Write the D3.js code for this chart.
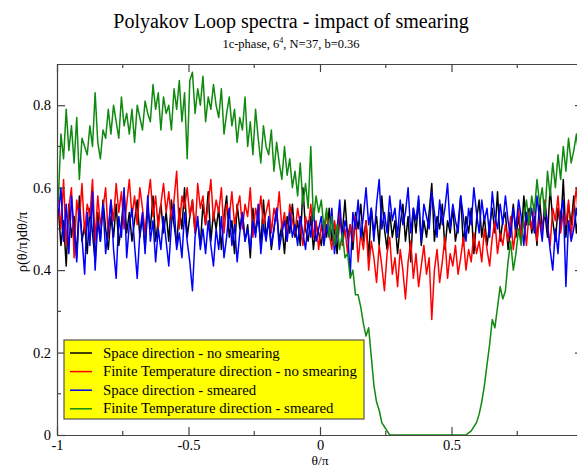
<!DOCTYPE html>
<html><head><meta charset="utf-8">
<script src="https://cdn.jsdelivr.net/npm/d3@7"></script>
<style>body{margin:0;background:#fff}svg{display:block}svg text{font-family:"Liberation Serif","Times New Roman","DejaVu Serif",serif !important}</style>
</head><body><svg id="c" width="577" height="467"></svg>
<script>
const seriesNames = ["Space direction - no smearing","Finite Temperature direction - no smearing","Space direction - smeared","Finite Temperature direction - smeared"];
const seriesColors = ["#000000","#ff0000","#0000ff","#0f8a0f"];
const xTicks = [-1,-0.5,0,0.5];
const yTicks = [0,0.2,0.4,0.6,0.8];
const xTickLabels = ["-1","-0.5","0","0.5"];
const yTickLabels = ["0","0.2","0.4","0.6","0.8"];
// bin centres: theta/pi from -0.995 to 0.995, step 0.01
const binCentres = d3.range(200).map(i => -0.995 + i*0.01);

const spaceNoSmear = [
0.55,0.46,0.52,0.41,0.56,0.48,0.53,0.43,0.58,0.47,
0.51,0.44,0.55,0.49,0.42,0.54,0.47,0.57,0.50,0.45,
0.53,0.48,0.56,0.46,0.51,0.59,0.49,0.54,0.47,0.52,
0.57,0.48,0.53,0.45,0.55,0.50,0.58,0.47,0.52,0.56,
0.49,0.54,0.47,0.57,0.51,0.46,0.55,0.50,0.60,0.48,
0.53,0.57,0.49,0.52,0.46,0.56,0.51,0.59,0.47,0.54,
0.50,0.55,0.45,0.53,0.58,0.48,0.52,0.44,0.56,0.50,
0.54,0.47,0.51,0.43,0.55,0.49,0.53,0.46,0.57,0.48,
0.52,0.45,0.50,0.55,0.47,0.51,0.44,0.53,0.49,0.56,
0.48,0.52,0.46,0.60,0.50,0.47,0.53,0.45,0.51,0.49,
0.46,0.52,0.48,0.55,0.47,0.50,0.44,0.53,0.49,0.57,
0.48,0.51,0.45,0.54,0.50,0.56,0.47,0.52,0.43,0.55,
0.49,0.53,0.46,0.58,0.50,0.45,0.54,0.48,0.52,0.44,
0.51,0.56,0.47,0.53,0.42,0.55,0.49,0.57,0.46,0.52,
0.48,0.54,0.61,0.47,0.53,0.50,0.56,0.45,0.52,0.49,
0.55,0.47,0.51,0.58,0.46,0.53,0.49,0.55,0.44,0.52,
0.57,0.48,0.53,0.46,0.51,0.55,0.49,0.59,0.47,0.52,
0.54,0.45,0.50,0.56,0.48,0.53,0.47,0.58,0.51,0.55,
0.49,0.53,0.46,0.57,0.50,0.54,0.48,0.60,0.52,0.47,
0.55,0.50,0.62,0.48,0.56,0.51,0.58,0.49,0.54,0.52];

const tempNoSmear = [
0.58,0.50,0.62,0.46,0.55,0.60,0.43,0.57,0.52,0.61,
0.49,0.56,0.53,0.62,0.47,0.58,0.51,0.55,0.60,0.48,
0.57,0.52,0.61,0.54,0.59,0.50,0.56,0.62,0.53,0.58,
0.51,0.60,0.55,0.49,0.57,0.62,0.53,0.58,0.50,0.56,
0.61,0.54,0.59,0.52,0.57,0.64,0.50,0.58,0.55,0.60,
0.53,0.57,0.49,0.61,0.55,0.58,0.51,0.56,0.62,0.52,
0.57,0.54,0.60,0.49,0.56,0.53,0.59,0.51,0.55,0.58,
0.50,0.56,0.53,0.60,0.48,0.55,0.52,0.58,0.51,0.54,
0.57,0.49,0.55,0.52,0.59,0.50,0.54,0.47,0.56,0.52,
0.49,0.55,0.51,0.46,0.53,0.50,0.56,0.48,0.52,0.45,
0.51,0.47,0.54,0.49,0.45,0.52,0.48,0.55,0.46,0.50,
0.44,0.51,0.47,0.53,0.42,0.49,0.45,0.52,0.40,0.47,
0.43,0.37,0.46,0.41,0.35,0.44,0.48,0.39,0.43,0.36,
0.45,0.40,0.33,0.42,0.47,0.38,0.44,0.36,0.41,0.46,
0.39,0.43,0.28,0.40,0.45,0.37,0.42,0.48,0.38,0.44,
0.41,0.46,0.39,0.43,0.48,0.40,0.45,0.42,0.49,0.44,
0.47,0.42,0.50,0.45,0.41,0.48,0.52,0.44,0.49,0.46,
0.51,0.47,0.53,0.45,0.50,0.55,0.48,0.52,0.46,0.54,
0.50,0.56,0.47,0.53,0.49,0.57,0.51,0.46,0.55,0.52,
0.58,0.49,0.54,0.51,0.57,0.48,0.55,0.60,0.50,0.53];

const spaceSmeared = [
0.53,0.60,0.47,0.56,0.44,0.58,0.50,0.42,0.55,0.48,
0.39,0.54,0.46,0.59,0.40,0.52,0.47,0.56,0.44,0.50,
0.57,0.45,0.38,0.53,0.48,0.60,0.43,0.51,0.55,0.46,
0.38,0.49,0.54,0.44,0.58,0.47,0.52,0.42,0.50,0.45,
0.53,0.47,0.41,0.51,0.56,0.45,0.49,0.43,0.54,0.47,
0.42,0.35,0.48,0.53,0.45,0.50,0.44,0.52,0.46,0.41,
0.50,0.45,0.53,0.43,0.48,0.55,0.46,0.51,0.42,0.49,
0.54,0.47,0.50,0.45,0.52,0.48,0.56,0.44,0.51,0.47,
0.53,0.46,0.50,0.55,0.45,0.49,0.52,0.47,0.54,0.48,
0.51,0.46,0.53,0.49,0.45,0.52,0.48,0.55,0.47,0.50,
0.53,0.46,0.51,0.48,0.55,0.44,0.50,0.57,0.47,0.52,
0.49,0.39,0.54,0.50,0.57,0.48,0.53,0.60,0.51,0.55,
0.47,0.56,0.62,0.50,0.54,0.49,0.58,0.52,0.55,0.48,
0.57,0.51,0.54,0.60,0.49,0.55,0.52,0.58,0.47,0.56,
0.53,0.50,0.59,0.54,0.48,0.57,0.51,0.55,0.61,0.50,
0.56,0.52,0.49,0.58,0.53,0.47,0.55,0.51,0.60,0.54,
0.49,0.57,0.52,0.55,0.48,0.59,0.53,0.50,0.56,0.51,
0.58,0.52,0.48,0.55,0.50,0.57,0.53,0.46,0.54,0.51,
0.55,0.49,0.58,0.52,0.47,0.56,0.51,0.45,0.40,0.50,
0.44,0.54,0.57,0.36,0.52,0.47,0.50,0.55,0.50,0.53];

const tempSmeared = [
0.57,0.73,0.67,0.79,0.69,0.75,0.66,0.77,0.62,0.72,
0.70,0.68,0.75,0.70,0.83,0.71,0.67,0.74,0.72,0.79,
0.73,0.80,0.76,0.72,0.82,0.75,0.78,0.73,0.79,0.71,
0.80,0.77,0.74,0.81,0.78,0.76,0.85,0.79,0.83,0.74,
0.82,0.78,0.80,0.74,0.84,0.79,0.86,0.76,0.83,0.67,
0.86,0.88,0.78,0.84,0.80,0.87,0.76,0.82,0.79,0.85,
0.80,0.77,0.84,0.73,0.78,0.82,0.75,0.79,0.71,0.77,
0.74,0.82,0.70,0.76,0.68,0.79,0.72,0.66,0.75,0.70,
0.68,0.74,0.64,0.71,0.66,0.62,0.70,0.63,0.67,0.60,
0.64,0.58,0.66,0.56,0.61,0.55,0.70,0.52,0.58,0.54,
0.57,0.50,0.55,0.48,0.53,0.46,0.51,0.45,0.49,0.43,
0.44,0.38,0.40,0.34,0.34,0.31,0.27,0.24,0.26,0.19,
0.12,0.08,0.06,0.03,0.02,0.01,0.00,0.00,0.00,0.00,
0.00,0.00,0.00,0.00,0.00,0.00,0.00,0.00,0.00,0.00,
0.00,0.00,0.00,0.00,0.00,0.00,0.00,0.00,0.00,0.00,
0.00,0.00,0.00,0.00,0.00,0.00,0.005,0.01,0.02,0.03,
0.05,0.08,0.12,0.17,0.22,0.28,0.26,0.31,0.36,0.33,
0.35,0.42,0.47,0.40,0.44,0.50,0.46,0.53,0.57,0.51,
0.58,0.54,0.62,0.56,0.60,0.53,0.64,0.58,0.66,0.60,
0.68,0.62,0.70,0.64,0.72,0.66,0.69,0.73,0.67,0.71];

const allSeries = [spaceNoSmear, tempNoSmear, spaceSmeared, tempSmeared];

const FONT = "Liberation Serif, Times New Roman, DejaVu Serif, serif";
const svg = d3.select("#c");
const L = 57, R = 583, T = 64, B = 435;
const x = d3.scaleLinear().domain([-1,1]).range([L,R]);
const y = d3.scaleLinear().domain([0,0.9]).range([B,T]);

svg.append("defs").append("clipPath").attr("id","clip")
  .append("rect").attr("x",L).attr("y",T).attr("width",R-L).attr("height",B-T);

const line = d3.line().x((d,i)=>x(binCentres[i])).y(d=>y(d));
const g = svg.append("g").attr("clip-path","url(#clip)");
allSeries.forEach((s,k)=>{
  g.append("path").datum(s).attr("d",line).attr("fill","none")
   .attr("stroke",seriesColors[k]).attr("stroke-width",1.5).attr("stroke-linejoin","round");
});

const minorX = [-0.75,-0.25,0.25,0.75];
const minorY = [0.1,0.3,0.5,0.7];
const axCol = "#444";
function styleAxis(sel){
  sel.attr("font-family",FONT);
  sel.selectAll("path").attr("stroke",axCol).attr("stroke-width",1.2);
  sel.selectAll("line").attr("stroke",axCol).attr("stroke-width",1.2);
  sel.selectAll("text").attr("font-family",FONT).attr("font-size",14.5).attr("fill","#000");
}
// bottom
const bx = svg.append("g").attr("transform",`translate(0,${B})`)
  .call(d3.axisBottom(x).tickValues(xTicks).tickFormat((d,i)=>xTickLabels[i]).tickSize(-8).tickSizeOuter(0).tickPadding(5));
styleAxis(bx);
bx.selectAll(".mn").data(minorX).enter().append("line").attr("x1",d=>x(d)).attr("x2",d=>x(d)).attr("y1",0).attr("y2",-4).attr("stroke",axCol).attr("stroke-width",1.2);
// top
const tx = svg.append("g").attr("transform",`translate(0,${T})`)
  .call(d3.axisTop(x).tickValues(xTicks).tickFormat("").tickSize(-8).tickSizeOuter(0));
styleAxis(tx);
tx.selectAll(".mn").data(minorX).enter().append("line").attr("x1",d=>x(d)).attr("x2",d=>x(d)).attr("y1",0).attr("y2",4).attr("stroke",axCol).attr("stroke-width",1.2);
// left
const ly = svg.append("g").attr("transform",`translate(${L},0)`)
  .call(d3.axisLeft(y).tickValues(yTicks).tickFormat((d,i)=>yTickLabels[i]).tickSize(-8).tickSizeOuter(0).tickPadding(6));
styleAxis(ly);
ly.selectAll(".mn").data(minorY).enter().append("line").attr("y1",d=>y(d)).attr("y2",d=>y(d)).attr("x1",0).attr("x2",4).attr("stroke",axCol).attr("stroke-width",1.2);
// right
const ry = svg.append("g").attr("transform",`translate(${R},0)`)
  .call(d3.axisRight(y).tickValues(yTicks).tickFormat("").tickSize(-8).tickSizeOuter(0));
styleAxis(ry);
ry.selectAll(".mn").data(minorY).enter().append("line").attr("y1",d=>y(d)).attr("y2",d=>y(d)).attr("x1",0).attr("x2",-4).attr("stroke",axCol).attr("stroke-width",1.2);

// titles
svg.append("text").attr("x",291).attr("y",28).attr("text-anchor","middle").attr("font-family",FONT).attr("font-size",20).text("Polyakov Loop spectra - impact of smearing");
const sub = svg.append("text").attr("x",291).attr("y",48).attr("text-anchor","middle").attr("font-family",FONT).attr("font-size",12.5);
sub.append("tspan").text("1c-phase, 6");
sub.append("tspan").attr("font-size",8).attr("dy",-5).text("4");
sub.append("tspan").attr("dy",5).text(", N=37, b=0.36");

svg.append("text").attr("x",320).attr("y",465).attr("text-anchor","middle").attr("font-family",FONT).attr("font-size",13.5).text("θ/π");
svg.append("text").attr("transform","translate(27,242) rotate(-90)").attr("text-anchor","middle").attr("font-family",FONT).attr("font-size",14.5).text("ρ(θ/π)dθ/π");

// legend
const lg = svg.append("g");
lg.append("rect").attr("x",64).attr("y",340).attr("width",300).attr("height",79).attr("fill","#ffff00").attr("stroke","#555").attr("stroke-width",1.2);
seriesNames.forEach((n,k)=>{
  const yy = 353 + k*18.6;
  lg.append("line").attr("x1",70).attr("x2",92).attr("y1",yy).attr("y2",yy).attr("stroke",seriesColors[k]).attr("stroke-width",1.5);
  lg.append("text").attr("x",103).attr("y",yy+4.5).attr("font-family",FONT).attr("font-size",14.8).text(n);
});
</script></body></html>
